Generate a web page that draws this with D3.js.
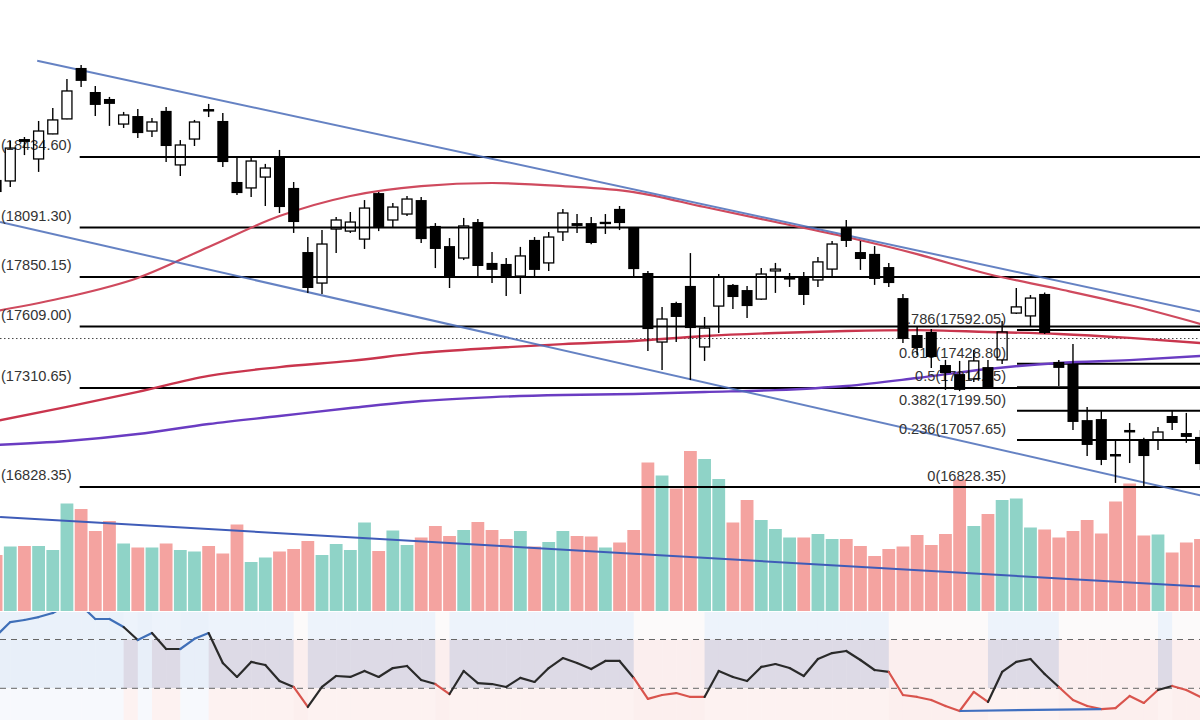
<!DOCTYPE html>
<html>
<head>
<meta charset="utf-8">
<script src="https://cdn.jsdelivr.net/npm/d3@7"></script>
<style>
  html, body { margin: 0; padding: 0; background: #fff; overflow: hidden; }
  svg { display: block; }
</style>
</head>
<body>
<svg id="chart" width="1200" height="720"></svg>
<script>
// daily candles
var opens = [18323,18318,18522,18425,18547,18620,18868,18751,18717,18595,
  18634,18561,18659,18396,18522,18668,18610,18313,18284,18337,
  18430,18284,17972,17821,18084,18074,18035,18259,18128,18157,
  18225,18099,18001,17943,18118,17919,17914,17855,18031,17919,
  18070,18113,18113,18111,18182,18089,17870,17534,17724,17807,
  17510,17709,17812,17787,17743,17880,17841,17851,17836,17889,
  18089,17972,17963,17899,17748,17568,17583,17422,17378,17354,
  17412,17447,17675,17661,17768,17437,17427,17154,17159,16989,
  17106,17062,17057,17174,17091,17072];
var highs = [18332,18513,18532,18610,18673,18814,18882,18780,18727,18654,
  18668,18624,18678,18517,18615,18693,18649,18435,18430,18401,
  18469,18313,18045,18079,18143,18167,18225,18264,18211,18245,
  18240,18113,18040,18138,18133,17972,17943,17997,18045,18070,
  18182,18157,18143,18157,18196,18094,17880,17705,17730,17967,
  17656,17865,17816,17807,17894,17919,17870,17875,17948,18026,
  18128,18026,18001,17919,17768,17612,17597,17447,17442,17495,
  17447,17636,17797,17763,17775,17447,17524,17218,17198,17057,
  17140,17068,17120,17203,17189,17106];
var lows = [18255,18289,18444,18362,18545,18618,18775,18634,18586,18576,
  18527,18532,18410,18342,18488,18629,18386,18250,18240,18196,
  18162,18065,17773,17768,17967,18065,17987,18074,18089,18147,
  18016,17894,17797,17933,17846,17821,17758,17768,17850,17880,
  18026,18065,18010,18060,18079,17851,17490,17398,17534,17349,
  17442,17578,17695,17651,17740,17773,17802,17714,17802,17851,
  17997,17885,17812,17802,17529,17471,17408,17301,17295,17339,
  17305,17427,17670,17607,17573,17320,17106,16979,16935,16848,
  16945,16828,17008,17106,17043,16911];
var closes = [18264,18478,18508,18561,18615,18756,18805,18688,18693,18639,
  18551,18605,18488,18493,18605,18659,18410,18259,18415,18381,
  18191,18118,17797,18011,18128,18118,18186,18089,18191,18230,
  18035,17987,17850,18099,17904,17885,17846,17953,17885,18045,
  18162,18099,18016,18116,18113,17889,17597,17646,17656,17602,
  17602,17850,17753,17709,17865,17889,17846,17763,17924,18011,
  18026,17938,17841,17821,17549,17505,17461,17383,17301,17442,
  17310,17583,17705,17748,17578,17408,17145,17033,16960,16979,
  17096,16979,17096,17140,17072,16940];
var volumes = [112,129,130,130,122,215,204,160,180,135,
  127,127,135,122,119,130,115,173,98,107,
  119,124,140,112,134,122,177,120,161,132,
  147,170,150,162,178,162,144,160,129,138,
  160,150,149,127,137,162,297,271,245,320,
  304,264,177,222,182,164,147,147,154,144,
  144,130,110,124,129,152,132,154,263,170,
  194,222,225,167,163,147,160,182,155,219,
  255,151,153,117,137,144];
var rsi = [72.9,84.3,86.0,88.4,91.7,98.0,97.9,86.8,86.8,80.2,
  69.6,75.3,62.2,62.2,70.6,75.3,50.7,39.3,51.6,49.1,
  36.0,31.1,14.7,31.1,40.1,39.3,44.2,39.3,46.6,48.3,
  36.8,33.5,25.3,44.2,34.3,33.5,31.1,38.5,35.2,46.6,
  54.8,50.7,45.8,52.4,52.4,38.5,21.3,24.5,26.1,22.9,
  22.9,44.2,39.3,36.0,47.5,49.9,46.6,40.1,54.0,58.9,
  60.6,53.2,45.0,43.4,24.5,22.9,20.4,15.5,11.4,27.0,
  18.8,43.4,51.6,54.0,41.7,31.1,20.4,15.5,13.0,13.8,
  23.7,18.0,28.6,31.9,28.6,22.9];

// moving averages, sampled every 5 bars
var maIdx = [0,5,10,15,20,25,30,35,40,45,50,55,60,65,70,75,80,85];
var maFast = [17685,17753,17846,17997,18147,18245,18293,18308,18293,18264,18191,18118,18045,17962,17865,17792,17714,17622];
var maSlow = [17150,17218,17291,17369,17412,17442,17481,17505,17524,17539,17563,17578,17588,17592,17583,17573,17554,17529];
var maLong = [17033,17052,17086,17135,17174,17213,17247,17266,17276,17281,17291,17300,17320,17359,17403,17432,17446,17466];

// horizontal levels and fibonacci retracement
var levels = [18434.60, 18091.30, 17850.15, 17609.00, 17310.65, 16828.35];
var levelStart = 5.9;
var lastPrice = 17551;
var fibRatios = [0.786, 0.618, 0.5, 0.382, 0.236, 0];
var fibPrices = [17592.05, 17428.80, 17314.15, 17199.50, 17057.65, 16828.35];
var fibStart = 72.05;

// drawn trend lines: [bar index, value]
var channelTop = [[2.9, 18903], [85.5, 17675]];
var channelBottom = [[0.28, 18118], [85.5, 16780]];
var volumeTrend = [[0.28, 188], [85.5, 48]];
var rsiTrend = [[68, 11.4], [78, 13.0]];

var svg = d3.select("#chart");
var n = closes.length;

var x = d3.scaleLinear().domain([0, n - 1]).range([-3.9, 1200.5]);
var y = d3.scaleLinear().domain([16828.35, 18434.6]).range([487, 157]);
var yVol = d3.scaleLinear().domain([0, 400]).range([611, 411]);
var yRsi = d3.scaleLinear().domain([30, 70]).range([688.3, 639.5]);

var rsiTop = 612, rsiBottom = 720;

function zone(v) {
  return v > 70 ? "ob" : v < 30 ? "os" : "mid";
}
var zoneFill = {
  ob:  ["#eaf1fa", "#e8eff9", "#f7f9fd"],
  mid: ["#edf3fb", "#dddae6", "#fdf2f1"],
  os:  ["#fcfafa", "#fbeeee", "#fcefee"]
};

svg.append("defs").append("clipPath").attr("id", "rsiClip")
  .append("rect").attr("x", 0).attr("y", rsiTop).attr("width", 1200).attr("height", rsiBottom - rsiTop);

// RSI background columns
var bg = svg.append("g");
d3.range(1, n).forEach(function (i) {
  var z = zoneFill[zone(rsi[i])];
  var x0 = x(i - 1), x1 = x(i);
  var bands = [[rsiTop, yRsi(70)], [yRsi(70), yRsi(30)], [yRsi(30), rsiBottom]];
  bands.forEach(function (b, k) {
    bg.append("rect")
      .attr("x", x0).attr("width", x1 - x0 + 0.5)
      .attr("y", b[0]).attr("height", b[1] - b[0])
      .attr("fill", z[k]);
  });
});

// volume
svg.append("g").selectAll("rect")
  .data(volumes)
  .enter().append("rect")
  .attr("x", function (d, i) { return x(i) - 6.4; })
  .attr("width", 12.8)
  .attr("y", function (d) { return yVol(d); })
  .attr("height", function (d) { return yVol(0) - yVol(d); })
  .attr("fill", function (d, i) { return closes[i] >= opens[i] ? "#8fd3c7" : "#f4a3a0"; });

svg.append("line")
  .attr("x1", x(volumeTrend[0][0])).attr("y1", yVol(volumeTrend[0][1]))
  .attr("x2", x(volumeTrend[1][0])).attr("y2", yVol(volumeTrend[1][1]))
  .attr("stroke", "#3f5cb8").attr("stroke-width", 2);

// level lines
var lv = svg.append("g");
levels.forEach(function (p) {
  lv.append("line")
    .attr("x1", x(levelStart)).attr("x2", 1200)
    .attr("y1", y(p)).attr("y2", y(p))
    .attr("stroke", "#000").attr("stroke-width", 2);
});
fibPrices.forEach(function (p) {
  lv.append("line")
    .attr("x1", x(fibStart)).attr("x2", 1200)
    .attr("y1", y(p)).attr("y2", y(p))
    .attr("stroke", "#000").attr("stroke-width", 2);
});
lv.append("line")
  .attr("x1", 0).attr("x2", 1200)
  .attr("y1", y(lastPrice)).attr("y2", y(lastPrice))
  .attr("stroke", "#444").attr("stroke-width", 1)
  .attr("stroke-dasharray", "1.5,2.5");

// moving averages
var maLine = d3.line()
  .x(function (d) { return x(d[0]); })
  .y(function (d) { return y(d[1]); })
  .curve(d3.curveMonotoneX);
function pairs(vals) { return maIdx.map(function (k, j) { return [k, vals[j]]; }); }

svg.append("path").attr("d", maLine(pairs(maLong)))
  .attr("fill", "none").attr("stroke", "#6a3cc2").attr("stroke-width", 2.4);
svg.append("path").attr("d", maLine(pairs(maSlow)))
  .attr("fill", "none").attr("stroke", "#c9354d").attr("stroke-width", 2.4);
svg.append("path").attr("d", maLine(pairs(maFast)))
  .attr("fill", "none").attr("stroke", "#cf4a5e").attr("stroke-width", 2.2);

// channel lines
[channelTop, channelBottom].forEach(function (t) {
  svg.append("line")
    .attr("x1", x(t[0][0])).attr("y1", y(t[0][1]))
    .attr("x2", x(t[1][0])).attr("y2", y(t[1][1]))
    .attr("stroke", "#4a6cb8").attr("stroke-opacity", 0.85).attr("stroke-width", 2);
});

// labels
var lab = svg.append("g")
  .style("font-family", "'Liberation Sans', Arial, sans-serif")
  .style("font-size", "14.6px")
  .attr("fill", "#333");
levels.forEach(function (p) {
  lab.append("text").attr("x", 1).attr("y", y(p) - 7)
    .text("(" + p.toFixed(2) + ")");
});
fibPrices.forEach(function (p, k) {
  lab.append("text").attr("x", x(fibStart) - 11).attr("y", y(p) - 6)
    .attr("text-anchor", "end")
    .text(String(fibRatios[k]) + "(" + p.toFixed(2) + ")");
});

// candles
var bodyW = 10;
var cg = svg.append("g").selectAll("g")
  .data(closes)
  .enter().append("g");
cg.each(function (c, i) {
  var g = d3.select(this);
  var o = opens[i], up = c >= o;
  var top = y(Math.max(o, c)), bot = y(Math.min(o, c));
  var cx = x(i);
  if (up) {
    g.append("line").attr("x1", cx).attr("x2", cx).attr("y1", y(highs[i])).attr("y2", top)
      .attr("stroke", "#000").attr("stroke-width", 1.4);
    g.append("line").attr("x1", cx).attr("x2", cx).attr("y1", bot).attr("y2", y(lows[i]))
      .attr("stroke", "#000").attr("stroke-width", 1.4);
    g.append("rect").attr("x", cx - bodyW / 2).attr("width", bodyW)
      .attr("y", top).attr("height", Math.max(1, bot - top))
      .attr("fill", "none").attr("stroke", "#000").attr("stroke-width", 1.3);
  } else {
    g.append("line").attr("x1", cx).attr("x2", cx).attr("y1", y(highs[i])).attr("y2", y(lows[i]))
      .attr("stroke", "#000").attr("stroke-width", 1.4);
    g.append("rect").attr("x", cx - bodyW / 2 - 0.5).attr("width", bodyW + 1)
      .attr("y", top).attr("height", Math.max(2.5, bot - top))
      .attr("fill", "#000");
  }
});

// RSI panel
var rp = svg.append("g").attr("clip-path", "url(#rsiClip)");
[70, 30].forEach(function (v) {
  rp.append("line").attr("x1", 0).attr("x2", 1200)
    .attr("y1", yRsi(v)).attr("y2", yRsi(v))
    .attr("stroke", "#666").attr("stroke-width", 1)
    .attr("stroke-dasharray", "6,5");
});
var lineColor = { ob: "#3f6fb8", mid: "#2a2a2a", os: "#d9544d" };
d3.range(1, n).forEach(function (i) {
  rp.append("line")
    .attr("x1", x(i - 1)).attr("y1", yRsi(rsi[i - 1]))
    .attr("x2", x(i)).attr("y2", yRsi(rsi[i]))
    .attr("stroke", lineColor[zone(rsi[i])])
    .attr("stroke-width", 2.2).attr("stroke-linecap", "round");
});
rp.append("line")
  .attr("x1", x(rsiTrend[0][0])).attr("y1", yRsi(rsiTrend[0][1]))
  .attr("x2", x(rsiTrend[1][0])).attr("y2", yRsi(rsiTrend[1][1]))
  .attr("stroke", "#3f6fc0").attr("stroke-width", 2.2);
</script>
</body>
</html>
